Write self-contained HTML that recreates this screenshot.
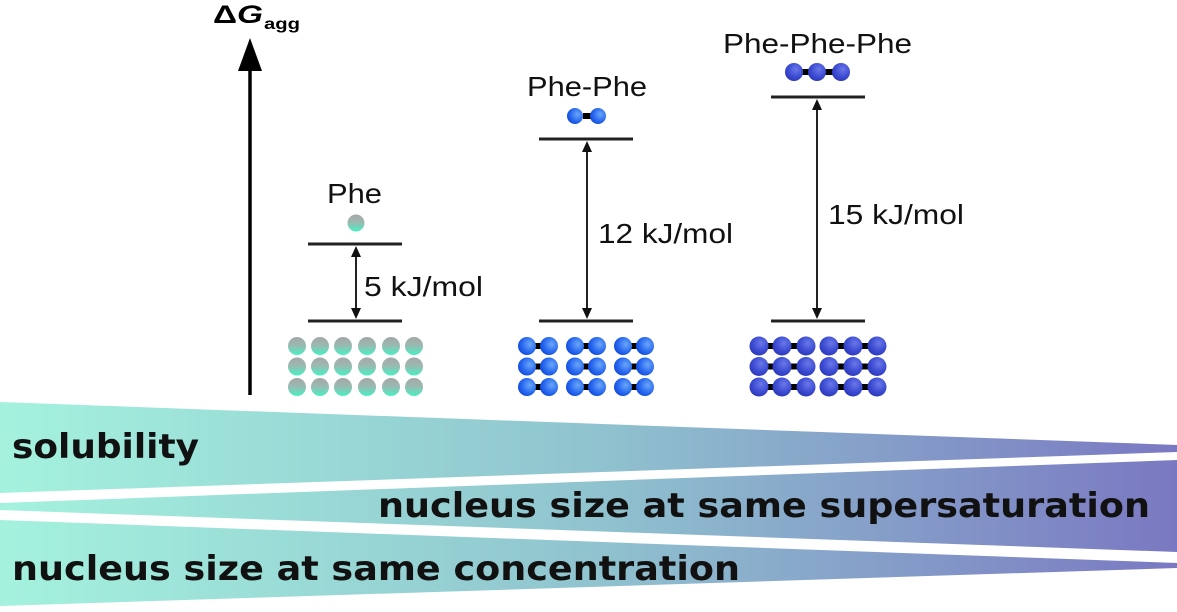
<!DOCTYPE html>
<html>
<head>
<meta charset="utf-8">
<style>
html,body{margin:0;padding:0;background:#fff;}
svg{display:block;}
</style>
</head>
<body>
<svg width="1177" height="612" viewBox="0 0 1177 612" xmlns="http://www.w3.org/2000/svg">
<defs>
  <linearGradient id="wg" x1="0" y1="0" x2="1177" y2="0" gradientUnits="userSpaceOnUse">
    <stop offset="0" stop-color="#a4f2de"/>
    <stop offset="0.5" stop-color="#90c4cf"/>
    <stop offset="1" stop-color="#7a78c2"/>
  </linearGradient>
  <linearGradient id="phe" x1="0" y1="0" x2="0" y2="1">
    <stop offset="0" stop-color="#a4a8a8"/>
    <stop offset="0.45" stop-color="#9cb8b0"/>
    <stop offset="1" stop-color="#48f0c4"/>
  </linearGradient>
  <radialGradient id="di" cx="0.65" cy="0.4" r="0.7">
    <stop offset="0" stop-color="#6aa6f8"/>
    <stop offset="0.6" stop-color="#2a6af0"/>
    <stop offset="1" stop-color="#1048d8"/>
  </radialGradient>
  <radialGradient id="tri" cx="0.6" cy="0.35" r="0.7">
    <stop offset="0" stop-color="#6a78e8"/>
    <stop offset="0.6" stop-color="#3c4cd2"/>
    <stop offset="1" stop-color="#2a36b8"/>
  </radialGradient>
</defs>

<!-- wedges -->
<polygon points="0,402 1177,445 1177,452 0,493" fill="url(#wg)"/>
<polygon points="0,503 1177,460 1177,552 0,510" fill="url(#wg)"/>
<polygon points="0,520 1177,563 1177,568 0,606" fill="url(#wg)"/>

<!-- bottom texts -->
<g font-family="'DejaVu Sans', Verdana, sans-serif" font-weight="bold" font-size="34" fill="#111">
  <text x="12" y="458" textLength="187" lengthAdjust="spacingAndGlyphs">solubility</text>
  <text x="378" y="517" textLength="772" lengthAdjust="spacingAndGlyphs">nucleus size at same supersaturation</text>
  <text x="12" y="580" textLength="728" lengthAdjust="spacingAndGlyphs">nucleus size at same concentration</text>
</g>

<!-- axis -->
<line x1="250" y1="66" x2="250" y2="395" stroke="#000" stroke-width="3.5"/>
<polygon points="250,38 238,71 262,71" fill="#000"/>
<text x="213" y="23" font-family="'Liberation Sans', Arial, sans-serif" font-weight="bold" font-size="25" fill="#000" textLength="50" lengthAdjust="spacingAndGlyphs">Δ<tspan font-style="italic">G</tspan></text>
<text x="264" y="29" font-family="'Liberation Sans', Arial, sans-serif" font-weight="bold" font-size="16" fill="#000" textLength="36" lengthAdjust="spacingAndGlyphs">agg</text>

<!-- labels -->
<g font-family="'Liberation Sans', Arial, sans-serif" font-size="28" fill="#111">
  <text x="327" y="203" textLength="55" lengthAdjust="spacingAndGlyphs">Phe</text>
  <text x="364" y="296" textLength="119" lengthAdjust="spacingAndGlyphs">5 kJ/mol</text>
  <text x="527" y="96" textLength="120" lengthAdjust="spacingAndGlyphs">Phe-Phe</text>
  <text x="598" y="243" textLength="135" lengthAdjust="spacingAndGlyphs">12 kJ/mol</text>
  <text x="723" y="53" textLength="189" lengthAdjust="spacingAndGlyphs">Phe-Phe-Phe</text>
  <text x="828" y="224" textLength="136" lengthAdjust="spacingAndGlyphs">15 kJ/mol</text>
</g>

<!-- level lines -->
<g stroke="#222" stroke-width="3">
  <line x1="308" y1="244" x2="402" y2="244"/>
  <line x1="308" y1="321" x2="402" y2="321"/>
  <line x1="539" y1="139" x2="633" y2="139"/>
  <line x1="539" y1="321" x2="633" y2="321"/>
  <line x1="771" y1="97" x2="865" y2="97"/>
  <line x1="771" y1="321" x2="865" y2="321"/>
</g>

<!-- double arrows -->
<g stroke="#222" stroke-width="2">
  <line x1="356" y1="252" x2="356" y2="313"/>
  <line x1="587" y1="147" x2="587" y2="313"/>
  <line x1="817" y1="105" x2="817" y2="313"/>
</g>
<g fill="#111">
  <polygon points="356,246 351,257 361,257"/>
  <polygon points="356,319 351,308 361,308"/>
  <polygon points="587,141 582,152 592,152"/>
  <polygon points="587,319 582,308 592,308"/>
  <polygon points="817,99 812,110 822,110"/>
  <polygon points="817,319 812,308 822,308"/>
</g>

<!-- single molecules -->
<circle cx="356" cy="223" r="8.5" fill="url(#phe)"/>
<rect x="583" y="113" width="8" height="6" fill="#000"/>
<circle cx="575" cy="116" r="8" fill="url(#di)"/>
<circle cx="598" cy="116" r="8" fill="url(#di)"/>
<rect x="800" y="69" width="36" height="6" fill="#000"/>
<circle cx="794" cy="72" r="9" fill="url(#tri)"/>
<circle cx="817" cy="72" r="9" fill="url(#tri)"/>
<circle cx="841" cy="72" r="9" fill="url(#tri)"/>

<!-- Phe crystal -->
<g fill="url(#phe)">
  <circle cx="297" cy="346" r="9"/><circle cx="320" cy="346" r="9"/><circle cx="343" cy="346" r="9"/><circle cx="367" cy="346" r="9"/><circle cx="391" cy="346" r="9"/><circle cx="414" cy="346" r="9"/>
  <circle cx="297" cy="366.5" r="9"/><circle cx="320" cy="366.5" r="9"/><circle cx="343" cy="366.5" r="9"/><circle cx="367" cy="366.5" r="9"/><circle cx="391" cy="366.5" r="9"/><circle cx="414" cy="366.5" r="9"/>
  <circle cx="297" cy="387" r="9"/><circle cx="320" cy="387" r="9"/><circle cx="343" cy="387" r="9"/><circle cx="367" cy="387" r="9"/><circle cx="391" cy="387" r="9"/><circle cx="414" cy="387" r="9"/>
</g>

<!-- Phe-Phe crystal -->
<g fill="#000">
  <rect x="533" y="343" width="10" height="6"/><rect x="581" y="343" width="10" height="6"/><rect x="629" y="343" width="10" height="6"/>
  <rect x="533" y="363.5" width="10" height="6"/><rect x="581" y="363.5" width="10" height="6"/><rect x="629" y="363.5" width="10" height="6"/>
  <rect x="533" y="384" width="10" height="6"/><rect x="581" y="384" width="10" height="6"/><rect x="629" y="384" width="10" height="6"/>
</g>
<g fill="url(#di)">
  <circle cx="527" cy="346" r="9"/><circle cx="549" cy="346" r="9"/><circle cx="575" cy="346" r="9"/><circle cx="597" cy="346" r="9"/><circle cx="623" cy="346" r="9"/><circle cx="645" cy="346" r="9"/>
  <circle cx="527" cy="366.5" r="9"/><circle cx="549" cy="366.5" r="9"/><circle cx="575" cy="366.5" r="9"/><circle cx="597" cy="366.5" r="9"/><circle cx="623" cy="366.5" r="9"/><circle cx="645" cy="366.5" r="9"/>
  <circle cx="527" cy="387" r="9"/><circle cx="549" cy="387" r="9"/><circle cx="575" cy="387" r="9"/><circle cx="597" cy="387" r="9"/><circle cx="623" cy="387" r="9"/><circle cx="645" cy="387" r="9"/>
</g>

<!-- Phe-Phe-Phe crystal -->
<g fill="#000">
  <rect x="765" y="343" width="36" height="6"/><rect x="835" y="343" width="36" height="6"/>
  <rect x="765" y="363.5" width="36" height="6"/><rect x="835" y="363.5" width="36" height="6"/>
  <rect x="765" y="384" width="36" height="6"/><rect x="835" y="384" width="36" height="6"/>
</g>
<g fill="url(#tri)">
  <circle cx="759" cy="346" r="9.5"/><circle cx="782" cy="346" r="9.5"/><circle cx="806" cy="346" r="9.5"/><circle cx="829" cy="346" r="9.5"/><circle cx="853" cy="346" r="9.5"/><circle cx="877" cy="346" r="9.5"/>
  <circle cx="759" cy="366.5" r="9.5"/><circle cx="782" cy="366.5" r="9.5"/><circle cx="806" cy="366.5" r="9.5"/><circle cx="829" cy="366.5" r="9.5"/><circle cx="853" cy="366.5" r="9.5"/><circle cx="877" cy="366.5" r="9.5"/>
  <circle cx="759" cy="387" r="9.5"/><circle cx="782" cy="387" r="9.5"/><circle cx="806" cy="387" r="9.5"/><circle cx="829" cy="387" r="9.5"/><circle cx="853" cy="387" r="9.5"/><circle cx="877" cy="387" r="9.5"/>
</g>
</svg>
</body>
</html>
